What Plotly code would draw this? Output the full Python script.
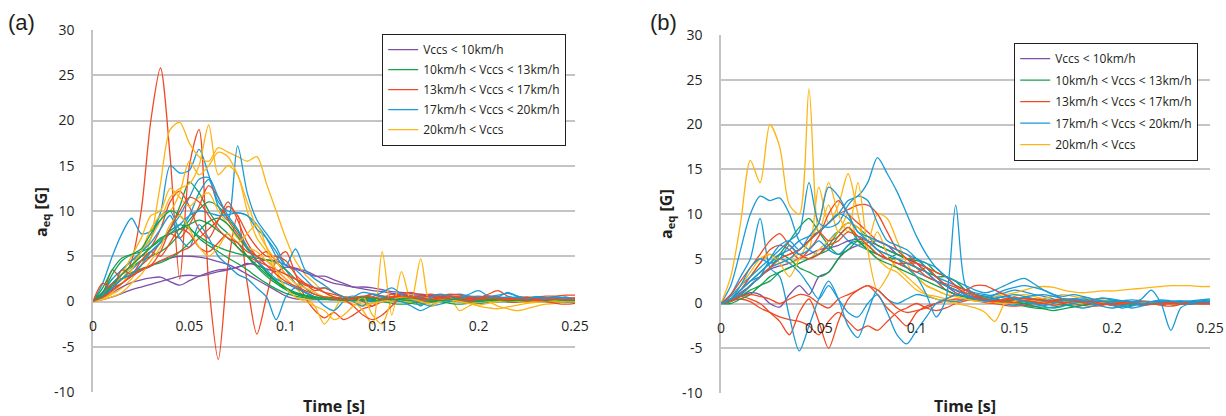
import plotly.graph_objects as go

# ---------------- shared time axis (s) ----------------
T = [0.000, 0.005, 0.010, 0.015, 0.020, 0.025, 0.030, 0.035, 0.040, 0.045,
     0.050, 0.055, 0.060, 0.065, 0.070, 0.075, 0.080, 0.085, 0.090, 0.095,
     0.100, 0.105, 0.110, 0.115, 0.120, 0.125, 0.130, 0.135, 0.140, 0.145,
     0.150, 0.155, 0.160, 0.165, 0.170, 0.175, 0.180, 0.185, 0.190, 0.195,
     0.200, 0.205, 0.210, 0.215, 0.220, 0.225, 0.230, 0.235, 0.240, 0.245,
     0.250]

X_TICKS = [0, 0.05, 0.1, 0.15, 0.2, 0.25]
X_TICK_TEXT = ["0", "0.05", "0.1", "0.15", "0.2", "0.25"]
Y_TICKS = [-10, -5, 0, 5, 10, 15, 20, 25, 30]
Y_TICK_TEXT = ["-10", "-5", "0", "5", "10", "15", "20", "25", "30"]

LABELS = ["Vccs &lt; 10km/h", "10km/h &lt; Vccs &lt; 13km/h", "13km/h &lt; Vccs &lt; 17km/h",
          "17km/h &lt; Vccs &lt; 20km/h", "20km/h &lt; Vccs"]
COLORS = ["#7F4FA6", "#13A24E", "#EF4A23", "#1A9AD6", "#FDB515"]

# ---------------- panel (a) ----------------
a_purple_1 = [0.0,0.2,0.5,0.9,1.3,1.6,1.9,2.2,2.5,2.8,
              2.9,2.8,3.0,3.3,3.5,3.8,4.1,4.4,4.6,4.5,
              4.0,3.7,3.4,2.9,2.4,2.0,1.8,1.6,1.6,1.5,
              1.3,1.1,1.0,0.9,0.8,0.7,0.6,0.6,0.5,0.5,
              0.4,0.4,0.3,0.3,0.3,0.2,0.2,0.2,0.2,0.2,
              0.2]
a_purple_2 = [0.0,0.5,1.3,2.0,2.8,3.4,3.9,4.5,4.8,5.0,
              5.0,4.9,4.7,4.4,4.1,3.6,3.0,2.4,1.8,1.2,
              0.6,0.3,0.2,0.2,0.3,0.3,0.3,0.2,0.2,0.2,
              0.2,0.1,0.1,0.1,0.1,0.1,0.1,0.1,0.0,0.0,
              0.0,0.0,0.0,0.1,0.1,0.1,0.0,0.0,0.0,0.0,
              0.0]
a_purple_3 = [0.0,0.4,1.0,1.6,2.1,2.4,2.6,2.7,2.2,1.8,
              2.3,2.8,3.2,3.5,3.6,3.8,4.2,4.0,3.6,3.3,
              3.8,3.6,3.2,2.8,2.8,2.4,2.0,1.6,1.4,1.2,
              1.1,0.9,0.8,0.7,0.7,0.6,0.5,0.5,0.4,0.4,
              0.3,0.3,0.3,0.2,0.2,0.2,0.2,0.1,0.1,0.1,
              0.1]

a_green_1 = [0.0,1.0,2.5,3.5,4.5,5.0,5.5,6.5,8.0,10.5,
             13.2,12.0,10.0,8.5,7.5,6.5,5.0,3.8,2.8,2.0,
             1.3,0.8,0.5,0.4,0.3,0.3,0.3,0.2,0.2,0.2,
             0.2,0.2,0.2,0.1,0.1,0.1,0.1,0.1,0.1,0.1,
             0.1,0.0,0.0,0.0,0.0,0.0,0.1,0.1,0.1,0.1,
             0.1]
a_green_2 = [0.0,0.8,2.0,3.0,3.8,4.5,5.0,5.5,6.3,7.5,
             9.0,10.2,11.0,10.5,9.2,7.8,6.0,4.5,3.2,2.2,
             1.4,0.9,0.6,0.4,0.3,0.2,0.2,0.3,0.4,0.3,
             0.2,0.1,0.0,-0.2,-0.3,-0.1,0.1,0.2,0.1,0.0,
             -0.2,-0.1,0.0,0.1,0.1,0.0,0.0,0.1,0.1,0.0,
             0.0]
a_green_3 = [0.0,1.5,3.5,4.8,5.2,5.5,6.0,6.8,7.8,8.5,
             8.0,7.2,6.5,6.0,5.6,5.3,5.0,4.8,4.6,4.3,
             3.5,2.5,1.5,0.8,0.5,0.4,0.3,0.3,0.2,0.2,
             0.2,0.3,0.2,0.1,0.2,0.3,0.2,0.1,0.0,-0.1,
             0.0,0.1,0.2,0.1,0.0,0.0,0.1,0.2,0.1,0.1,
             0.1]
a_green_4 = [0.0,0.5,1.5,2.5,3.2,3.6,4.0,4.3,4.8,5.5,
             6.5,7.8,8.8,9.2,8.5,7.2,5.8,4.5,3.3,2.3,
             1.5,0.9,0.6,0.4,0.4,0.3,0.2,0.2,0.1,0.1,
             0.0,-0.2,-0.3,-0.2,0.0,0.1,0.0,-0.2,-0.3,-0.2,
             -0.1,0.0,0.1,0.0,-0.1,0.0,0.1,0.1,0.0,0.0,
             0.0]
a_green_5 = [0.0,1.0,3.0,4.5,5.2,5.8,7.5,9.0,10.0,9.5,
             8.2,7.0,6.2,5.5,4.8,4.2,3.5,2.7,2.0,1.4,
             0.9,0.6,0.4,0.3,0.2,0.2,0.1,0.1,0.2,0.3,
             0.4,0.3,0.2,0.1,0.0,0.0,0.1,0.2,0.1,0.0,
             0.0,0.1,0.1,0.0,-0.1,0.0,0.1,0.1,0.1,0.0,
             0.0]
a_green_6 = [0.0,0.6,1.8,3.0,4.0,5.0,6.0,7.0,7.5,8.0,
             8.5,9.0,8.6,7.8,7.0,6.0,5.0,4.0,3.0,2.2,
             1.5,1.0,0.7,0.5,0.4,0.3,0.3,0.4,0.5,0.4,
             0.3,0.2,0.3,0.4,0.3,0.2,0.1,0.2,0.3,0.2,
             0.1,0.2,0.2,0.1,0.1,0.2,0.1,0.1,0.2,0.1,
             0.1]

a_red_1 = [0.0,0.8,3.5,2.5,4.5,10.0,20.0,25.8,16.0,2.5,
           15.0,19.0,2.0,-6.4,4.0,9.5,2.0,-3.6,0.5,4.5,
           5.5,3.0,0.5,-1.0,-1.8,-1.2,-2.0,-1.5,-0.8,-0.5,
           0.3,0.8,0.5,0.2,0.6,0.8,0.6,0.4,0.3,0.5,
           0.4,0.8,1.2,0.6,0.3,0.2,0.4,0.3,0.2,0.3,
           0.4]
a_red_2 = [0.0,0.5,1.5,3.0,4.0,5.0,6.0,8.0,11.0,12.2,
           10.5,8.0,7.0,9.0,11.0,9.0,6.5,5.0,4.5,3.5,
           2.5,1.5,1.0,0.5,0.3,0.4,0.5,0.3,0.2,0.4,
           0.6,0.5,0.3,0.2,0.4,0.6,0.5,0.3,0.2,0.3,
           0.5,0.6,0.4,0.3,0.2,0.3,0.4,0.3,0.2,0.3,
           0.4]
a_red_3 = [0.0,1.0,2.0,2.5,3.0,4.0,5.0,6.5,7.5,7.0,
           8.5,10.5,12.8,11.5,9.0,7.5,6.0,5.0,5.5,4.5,
           3.0,2.5,1.8,1.5,1.0,0.8,0.5,0.3,0.0,-0.5,
           0.0,0.5,0.8,0.6,0.4,0.2,0.4,0.6,0.5,0.3,
           0.2,0.3,0.5,0.4,0.3,0.4,0.5,0.6,0.6,0.7,
           0.7]
a_red_4 = [0.0,0.5,1.5,2.0,3.0,3.5,4.0,4.5,5.0,5.5,
           6.0,7.0,8.0,9.0,10.5,9.5,7.5,6.0,5.0,5.0,
           4.5,3.0,2.0,1.2,1.5,1.0,0.5,0.2,0.5,0.8,
           0.6,0.4,0.8,1.0,0.7,0.5,0.6,0.8,0.7,0.5,
           0.4,0.6,0.5,0.3,0.4,0.5,0.3,0.2,0.3,0.4,
           0.3]
a_red_5 = [0.0,2.0,1.5,3.5,3.0,4.5,5.5,5.0,6.5,8.0,
           7.5,6.0,5.5,6.5,7.5,6.0,5.0,4.5,4.0,3.5,
           3.0,2.5,2.0,1.5,1.0,0.5,0.2,-0.5,-1.5,-2.0,
           -1.5,-0.5,0.5,0.3,0.0,0.2,0.4,0.3,0.1,0.0,
           0.1,0.3,0.2,0.0,-0.1,0.1,0.2,0.0,-0.2,-0.3,
           -0.2]
a_red_6 = [0.0,0.5,1.2,2.0,2.8,3.5,4.0,5.5,8.0,10.0,
           11.5,11.0,9.5,8.0,7.0,6.5,5.5,5.0,4.0,3.0,
           2.2,1.7,1.2,0.8,0.5,0.3,0.2,0.4,0.6,0.5,
           0.3,0.4,0.6,0.5,0.3,0.2,0.3,0.5,0.4,0.2,
           0.3,0.4,0.3,0.2,0.3,0.2,0.1,0.2,0.3,0.2,
           0.2]

a_blue_1 = [0.0,2.0,5.0,7.5,9.2,7.5,7.8,9.8,15.0,14.2,
            14.5,16.8,14.0,11.0,10.0,9.8,9.5,8.5,7.0,5.0,
            3.5,2.0,1.0,0.5,0.3,0.2,0.4,0.6,0.4,0.2,
            0.3,0.5,0.7,0.6,0.4,0.3,0.5,0.7,0.8,0.6,
            0.4,0.5,0.7,0.9,0.6,0.4,0.3,0.4,0.5,0.4,
            0.3]
a_blue_2 = [0.0,0.8,2.0,3.0,4.0,5.5,7.0,9.5,10.0,8.0,
            9.5,12.0,13.5,10.5,9.0,17.2,12.0,9.0,7.5,6.0,
            4.0,3.5,2.5,1.5,1.5,1.0,0.5,0.3,0.5,0.8,
            0.6,0.3,0.2,0.4,0.6,0.5,0.3,0.2,0.4,0.6,
            0.5,0.3,0.2,0.3,0.5,0.4,0.3,0.4,0.5,0.4,
            0.3]
a_blue_3 = [0.0,1.0,2.5,3.5,4.5,5.5,6.5,8.0,9.5,7.0,
            6.0,8.5,7.0,5.0,4.0,3.0,2.5,1.5,0.5,-2.0,
            0.5,1.5,1.0,0.5,0.3,0.2,0.4,0.3,0.1,0.0,
            0.2,0.4,0.3,0.1,-0.2,-0.5,-0.3,0.0,0.3,0.5,
            0.6,0.4,0.2,0.0,0.2,0.4,0.5,0.3,0.2,0.4,
            0.3]
a_blue_4 = [0.0,0.5,1.5,2.5,3.5,4.5,5.5,6.5,8.0,9.5,
            11.5,13.5,13.7,11.5,9.5,8.0,6.0,4.5,3.5,2.5,
            2.0,1.5,1.0,0.5,-0.5,-1.0,0.0,0.5,1.0,0.8,
            0.5,0.3,0.0,-0.5,-1.0,-0.5,0.2,0.5,0.3,0.0,
            -0.2,0.0,0.3,0.5,0.4,0.2,0.1,0.3,0.5,0.3,
            0.2]
a_blue_5 = [0.0,0.5,1.5,2.5,3.0,4.0,5.5,6.5,7.5,8.5,
            9.5,10.0,9.8,9.5,9.6,9.8,9.5,8.0,7.0,5.5,
            4.0,5.8,3.5,2.5,1.8,1.0,0.5,0.0,-0.5,0.5,
            1.0,1.5,0.8,0.3,-0.5,0.5,0.8,0.6,0.4,0.8,
            1.2,0.6,0.5,1.0,0.6,0.3,0.5,0.4,0.3,0.5,
            0.2]

a_yellow_1 = [0.0,0.3,0.8,1.5,2.5,4.0,7.0,13.0,19.0,19.8,
              17.5,16.0,15.5,17.0,16.5,16.0,15.5,16.0,13.0,10.0,
              7.0,4.5,3.0,2.0,1.0,0.5,0.3,0.5,0.4,0.2,
              0.0,0.3,0.5,0.3,0.1,0.2,0.4,0.3,0.1,0.0,
              0.1,0.2,0.1,0.0,-0.1,0.0,0.1,0.1,0.0,0.0,
              0.1]
a_yellow_2 = [0.0,0.5,1.5,2.5,4.0,5.5,7.0,9.0,11.5,12.5,
              13.0,15.0,19.5,14.0,15.0,14.0,10.0,7.0,5.5,3.0,
              1.5,0.5,0.2,0.3,0.5,0.4,0.2,0.0,-0.3,-0.2,
              0.0,0.2,0.1,-0.1,-0.2,0.0,0.2,0.1,0.0,-0.2,
              -0.5,-0.7,-0.8,-0.6,-0.4,-0.2,-0.1,0.0,0.0,0.1,
              0.1]
a_yellow_3 = [0.0,0.5,1.5,3.0,5.0,7.0,9.5,10.0,12.5,11.5,
              10.5,11.5,12.0,10.0,8.5,7.0,6.0,5.5,4.5,3.5,
              2.5,1.5,0.5,-0.5,-2.5,-1.0,0.5,0.0,-1.0,-2.5,
              5.5,-1.5,3.3,0.0,4.7,-0.5,0.0,0.5,-1.0,-0.5,
              0.0,0.0,-0.5,-0.8,-1.0,-0.8,-0.5,-0.3,-0.2,0.0,
              0.0]
a_yellow_4 = [0.0,0.3,1.0,2.0,3.5,5.5,8.0,9.5,10.0,12.0,
              15.5,14.0,15.0,16.5,16.0,14.0,11.0,8.0,6.0,4.5,
              3.0,2.0,1.5,1.0,0.5,0.2,0.0,-0.3,-0.5,-0.2,
              0.0,0.2,0.3,0.1,0.0,0.2,0.3,0.2,0.0,-0.2,
              -0.1,0.0,0.1,0.0,-0.1,0.0,0.1,0.0,0.0,0.1,
              0.1]
a_yellow_5 = [0.0,0.2,0.5,1.0,2.0,3.0,4.5,6.0,8.5,9.5,
              8.0,6.0,5.0,6.0,7.5,6.5,7.5,8.5,6.0,3.5,
              1.5,0.5,0.0,-0.5,-1.0,-2.0,-1.5,-0.5,0.5,-1.5,
              -2.5,0.0,0.5,0.3,0.0,-0.3,0.0,0.2,0.0,-0.2,
              -0.4,-0.2,0.0,0.1,0.0,-0.1,0.0,0.1,0.1,0.0,
              0.0]

# ---------------- panel (b) ----------------
b_purple_1 = [0.0,0.3,0.8,1.2,1.0,0.0,-0.4,1.0,2.0,1.0,
              3.0,3.5,5.0,6.0,6.5,6.8,7.0,6.5,5.5,5.0,
              4.5,3.5,2.5,1.5,1.0,0.8,0.5,0.3,0.2,0.1,
              0.0,-0.2,-0.3,-0.2,0.0,0.1,0.2,0.1,0.0,-0.1,
              0.0,0.1,0.1,0.0,0.0,0.1,0.1,0.0,0.0,0.1,
              0.1]
b_purple_2 = [0.0,0.5,1.2,2.0,3.0,3.8,4.2,4.5,5.0,5.5,
              6.0,6.2,6.5,7.0,7.2,7.0,6.5,6.0,5.5,5.0,
              4.5,4.0,3.0,2.0,1.2,0.8,0.6,0.5,0.4,0.3,
              0.2,0.3,0.2,0.1,0.2,0.3,0.2,0.1,0.1,0.2,
              0.1,0.1,0.2,0.1,0.0,0.1,0.1,0.1,0.0,0.1,
              0.1]

b_green_1 = [0.0,0.3,1.0,2.0,3.0,4.0,5.5,7.0,8.5,9.5,
             8.0,6.5,5.5,6.0,7.0,6.5,5.5,5.0,5.0,4.5,
             4.0,3.5,3.0,2.0,1.5,1.0,0.7,0.5,0.3,0.2,
             0.0,-0.3,-0.5,-0.6,-0.8,-0.6,-0.4,-0.2,0.0,0.1,
             0.0,-0.1,0.0,0.1,0.1,0.0,0.0,0.1,0.1,0.2,
             0.2]
b_green_2 = [0.0,0.2,0.8,1.5,2.0,3.0,3.5,4.0,4.5,5.0,
             5.5,6.5,8.0,9.0,8.5,7.5,6.5,6.0,5.5,5.0,
             4.8,4.5,3.5,3.0,2.5,1.5,1.0,0.7,0.5,0.3,
             0.2,0.0,-0.3,-0.5,-0.4,-0.2,0.0,0.2,0.1,0.0,
             -0.2,-0.3,-0.2,0.0,0.1,0.2,0.1,0.0,0.1,0.1,
             0.1]
b_green_3 = [0.0,0.5,1.5,2.5,3.5,4.5,5.5,5.0,4.0,3.5,
             3.0,3.5,5.0,6.5,7.0,6.0,5.5,5.0,5.5,5.0,
             5.0,4.0,3.0,3.0,2.5,1.5,1.0,0.8,0.5,0.3,
             0.5,0.6,0.4,0.2,0.3,0.5,0.4,0.2,0.1,0.2,
             0.3,0.2,0.1,0.0,0.1,0.2,0.1,0.0,0.0,0.1,
             0.1]
b_green_4 = [0.0,0.0,0.5,1.0,2.0,2.5,3.5,4.0,4.5,5.0,
             5.5,6.0,7.5,8.5,7.0,6.0,5.0,4.5,4.0,3.5,
             3.0,2.5,2.0,1.5,1.0,0.7,0.5,0.4,0.3,0.2,
             0.1,0.0,0.1,0.2,0.1,-0.1,-0.3,-0.2,0.0,0.1,
             0.1,0.0,-0.1,0.0,0.1,0.1,0.0,0.0,0.1,0.1,
             0.1]

b_red_1 = [0.0,0.5,0.8,0.5,0.0,-1.0,-2.0,-3.5,-1.0,0.5,
           -2.0,-5.0,-2.0,0.5,1.5,2.0,1.0,-0.5,-1.5,-2.5,
           -1.0,-0.3,0.0,0.3,0.5,0.4,0.3,0.1,0.0,-0.2,
           -0.3,-0.2,0.0,0.2,0.3,0.2,0.0,-0.2,-0.3,-0.2,
           0.0,0.1,0.2,0.1,0.0,-0.1,0.0,0.1,0.1,0.0,
           0.0]
b_red_2 = [0.0,0.3,0.5,0.2,-0.5,-1.0,-1.5,-1.8,-2.0,-2.5,
           -3.5,-2.0,-1.0,-2.0,-3.0,-2.5,-3.0,-2.0,-1.0,-0.5,
           0.0,-0.5,-0.8,-0.5,0.0,0.3,0.5,0.4,0.3,0.2,
           0.4,0.6,0.5,0.3,0.2,0.3,0.4,0.3,0.1,0.0,
           0.1,0.2,0.1,0.0,0.0,0.1,0.1,0.0,0.0,0.1,
           0.1]
b_red_3 = [0.0,0.5,1.5,3.0,4.5,6.0,6.5,6.0,5.0,6.0,
           7.5,10.0,11.5,10.0,9.0,8.0,7.0,6.5,6.0,5.5,
           4.5,3.5,2.5,1.5,1.0,0.8,0.6,0.4,0.3,0.2,
           0.4,0.6,0.5,0.3,0.2,0.4,0.5,0.3,0.1,0.0,
           -0.2,-0.1,0.1,0.2,0.0,-0.2,-0.3,-0.1,0.1,0.0,
           0.0]
b_red_4 = [0.0,0.5,1.0,2.0,3.0,4.0,5.0,5.5,6.0,7.0,
           8.0,9.0,10.0,10.5,11.0,11.0,10.0,8.0,6.0,5.0,
           4.0,3.0,2.5,2.2,1.8,1.2,0.8,0.5,0.3,0.5,
           0.7,0.5,0.3,0.2,0.4,0.5,0.3,0.1,0.0,0.1,
           0.2,0.1,0.0,0.1,0.2,0.1,0.0,0.0,0.1,0.1,
           0.1]
b_red_5 = [0.0,1.0,2.5,4.0,5.5,7.0,7.8,6.5,5.5,5.0,
           5.5,6.5,7.0,8.0,7.5,7.0,6.0,5.0,4.5,4.0,
           3.5,4.0,3.0,2.0,1.5,1.0,0.6,0.3,0.2,0.4,
           0.5,0.3,0.1,0.0,0.2,0.4,0.3,0.1,0.0,-0.1,
           0.0,0.1,0.0,-0.1,0.0,0.1,0.0,0.0,0.1,0.0,
           0.0]
b_red_6 = [0.0,0.5,0.8,1.0,0.8,0.5,0.0,0.5,1.0,0.8,
           0.0,-0.5,0.5,1.0,1.5,2.0,1.5,0.5,-0.5,-1.0,
           -0.8,-0.5,0.0,0.5,1.0,1.5,2.0,2.0,1.5,1.0,
           0.5,0.3,0.2,0.0,-0.2,0.0,0.2,0.1,0.0,-0.1,
           0.0,0.1,0.1,0.0,0.0,0.1,0.1,0.0,0.0,0.0,
           0.0]
b_red_7 = [0.0,0.3,1.0,2.0,3.0,4.0,5.0,5.5,6.0,7.0,
           8.0,7.0,7.5,8.5,7.5,6.5,5.5,5.0,4.5,4.5,
           4.5,4.0,3.5,3.0,2.0,1.5,1.0,0.5,0.3,0.2,
           0.1,0.3,0.5,0.4,0.2,0.1,0.2,0.3,0.2,0.0,
           -0.1,0.0,0.1,0.0,-0.1,0.0,0.1,0.1,0.0,0.0,
           0.0]

b_blue_1 = [0.0,2.0,6.0,10.0,12.0,11.5,11.8,10.0,7.0,6.0,
            5.5,7.0,8.0,7.0,6.5,6.0,5.5,5.0,4.5,4.0,
            3.5,3.0,2.5,2.0,1.5,1.2,1.0,0.8,1.0,1.2,
            1.5,1.3,1.0,0.8,0.5,0.3,0.5,0.7,0.5,0.3,
            0.2,0.3,0.4,0.3,0.2,0.1,0.2,0.3,0.2,0.1,
            0.1]
b_blue_2 = [0.0,1.0,3.0,5.0,9.5,4.0,3.0,-1.5,-5.3,-2.5,
            0.5,2.5,0.5,-2.5,-3.8,-1.0,1.5,0.5,0.0,0.5,
            1.0,0.8,0.5,0.3,0.2,0.5,0.8,0.5,0.2,0.0,
            -0.2,0.0,0.3,0.5,0.3,0.0,-0.3,-0.5,-0.3,0.0,
            0.2,0.1,0.0,-0.2,-0.1,0.0,0.1,0.0,-0.1,0.0,
            0.0]
b_blue_3 = [0.0,0.5,1.5,2.5,3.5,4.5,5.5,6.0,7.0,7.5,
            8.0,9.0,10.0,11.5,12.0,13.5,16.3,14.5,12.5,10.0,
            7.5,5.5,4.0,3.0,2.0,1.5,1.2,1.0,0.8,0.6,
            0.5,0.7,0.9,1.0,0.8,0.5,0.3,0.2,0.4,0.6,
            0.5,0.3,0.2,0.1,0.2,0.3,0.2,0.1,0.2,0.3,
            0.3]
b_blue_4 = [0.0,0.8,2.0,3.0,4.0,5.0,6.0,7.0,8.0,13.5,
            9.0,8.5,9.0,11.0,12.0,11.5,9.0,7.0,6.5,6.0,
            5.0,4.0,3.0,2.5,2.0,1.5,1.0,0.8,0.6,0.8,
            1.0,0.8,0.5,0.3,0.2,0.1,0.3,0.5,0.3,0.1,
            -0.2,-0.5,-0.3,0.0,0.2,0.3,0.2,0.1,0.2,0.3,
            0.2]
b_blue_5 = [0.0,0.5,1.0,2.0,3.0,4.0,4.5,5.0,6.0,7.0,
            8.0,9.0,10.0,9.5,8.0,7.0,6.0,5.5,5.0,4.0,
            3.0,1.0,-1.5,0.5,11.0,2.0,1.0,0.5,1.0,1.5,
            1.8,2.0,1.8,1.5,1.0,0.5,0.3,0.2,0.4,0.6,
            0.4,0.2,0.0,-0.2,-0.1,0.0,0.2,0.3,0.2,0.1,
            0.1]
b_blue_6 = [0.0,0.5,1.5,2.5,3.0,4.0,5.0,4.5,3.5,2.0,
            0.5,2.0,0.5,-1.0,-1.5,0.0,1.0,-1.0,-3.5,-4.5,
            -3.0,-1.5,0.0,0.5,1.0,0.8,0.5,0.3,0.5,0.8,
            0.6,0.3,0.0,-0.3,-0.5,-0.3,0.0,0.2,0.3,0.2,
            0.0,-0.2,-0.5,-0.3,0.0,0.2,0.1,0.0,0.1,0.2,
            0.1]
b_blue_7 = [0.0,0.5,1.0,2.0,3.0,5.0,6.5,7.0,6.0,7.5,
            9.0,13.0,12.0,10.0,8.0,7.5,7.0,6.5,6.0,5.5,
            5.0,4.5,4.0,3.0,2.5,2.0,1.5,1.2,1.5,2.0,
            2.5,2.8,2.2,1.5,1.0,0.8,1.0,0.8,0.5,0.3,
            0.2,0.3,0.2,0.0,0.2,0.4,0.3,0.2,0.3,0.4,
            0.5]
b_blue_8 = [0.0,0.5,2.0,4.0,5.0,4.5,5.0,6.5,5.5,6.0,
            7.0,6.0,5.5,6.5,7.5,7.0,6.0,5.5,5.0,4.5,
            4.0,3.5,2.5,2.0,1.5,1.0,0.5,0.3,0.5,0.8,
            0.5,0.2,0.0,-0.2,0.0,0.3,0.5,0.3,0.0,-0.3,
            -0.5,-0.3,0.0,0.5,1.5,0.0,-3.0,-0.5,0.0,0.2,
            0.3]

b_yellow_1 = [0.0,3.0,9.0,16.0,13.5,20.0,17.5,11.0,10.0,24.0,
              8.0,11.0,8.0,10.0,7.0,6.0,5.0,4.0,3.5,2.5,
              1.5,1.0,0.8,0.5,0.3,0.5,0.8,0.6,0.4,0.2,
              0.0,0.2,0.4,0.6,0.8,1.0,0.8,0.6,0.5,0.4,
              0.3,0.2,0.1,0.0,0.1,0.2,0.1,0.0,0.1,0.2,
              0.2]
b_yellow_2 = [0.0,0.5,1.5,3.0,4.5,5.5,5.0,4.5,5.0,6.0,
              13.0,9.0,11.0,14.5,10.0,6.0,8.0,5.5,4.0,3.0,
              2.0,1.0,0.5,0.2,0.0,-0.2,-0.5,-1.0,-2.0,0.0,
              0.8,1.0,0.8,0.5,0.3,0.2,0.1,0.0,0.1,0.2,
              0.1,0.0,-0.1,0.0,0.1,0.1,0.0,0.0,0.1,0.1,
              0.1]
b_yellow_3 = [0.0,0.5,1.0,2.0,3.0,4.0,4.5,5.0,5.5,5.0,
              6.0,7.0,8.0,9.0,8.5,7.0,10.0,9.5,7.0,4.5,
              3.0,2.0,1.5,1.0,0.8,0.5,0.3,0.5,0.8,1.0,
              1.2,1.5,1.8,1.9,1.8,1.5,1.3,1.2,1.3,1.4,
              1.4,1.5,1.6,1.7,1.8,1.9,2.0,2.0,2.0,1.9,
              1.9]
b_yellow_4 = [0.0,0.5,2.0,3.5,5.0,5.5,4.5,3.0,5.0,7.0,
              9.0,13.5,10.0,8.0,13.5,6.0,1.5,3.0,5.0,4.0,
              3.0,2.0,1.5,1.0,0.8,0.5,0.3,0.2,0.1,0.0,
              0.2,0.4,0.3,0.1,0.0,0.1,0.2,0.1,0.0,0.1,
              0.2,0.1,0.0,0.1,0.1,0.0,0.1,0.1,0.1,0.1,
              0.1]

PANEL_A = [
    [a_purple_1, a_purple_2, a_purple_3],
    [a_green_1, a_green_2, a_green_3, a_green_4, a_green_5, a_green_6],
    [a_red_1, a_red_2, a_red_3, a_red_4, a_red_5, a_red_6],
    [a_blue_1, a_blue_2, a_blue_3, a_blue_4, a_blue_5],
    [a_yellow_1, a_yellow_2, a_yellow_3, a_yellow_4, a_yellow_5],
]
PANEL_B = [
    [b_purple_1, b_purple_2],
    [b_green_1, b_green_2, b_green_3, b_green_4],
    [b_red_1, b_red_2, b_red_3, b_red_4, b_red_5, b_red_6, b_red_7],
    [b_blue_1, b_blue_2, b_blue_3, b_blue_4, b_blue_5, b_blue_6, b_blue_7, b_blue_8],
    [b_yellow_1, b_yellow_2, b_yellow_3, b_yellow_4],
]

W, H = 1226, 416
FONT = "Open Sans"
TXT = "#231f20"

def px_x(v):
    return v / W

def px_y(v):
    return 1 - v / H

fig = go.Figure()

def add_panel(groups, xa, ya, legend, prefix):
    nmax = max(len(g) for g in groups)
    shown = set()
    for i in range(nmax):
        for ci, g in enumerate(groups):
            if i < len(g):
                assert len(g[i]) == len(T), (prefix, ci, i, len(g[i]))
                fig.add_trace(go.Scatter(
                    x=T, y=g[i], mode="lines",
                    line=dict(color=COLORS[ci], width=1.3, shape="spline", smoothing=0.8),
                    name=LABELS[ci], legendgroup=prefix + str(ci),
                    showlegend=(ci not in shown), legend=legend,
                    xaxis=xa, yaxis=ya, hoverinfo="skip",
                ))
                shown.add(ci)

add_panel(PANEL_A, "x", "y", "legend", "a")
add_panel(PANEL_B, "x2", "y2", "legend2", "b")

# plot areas in px
A_X0, A_X1, A_Y0, A_Y1 = 93, 575, 30, 392
B_X0, B_X1, B_Y0, B_Y1 = 721, 1210, 35, 393

def zero_pos(y0, y1):
    return px_y(y1) + (px_y(y0) - px_y(y1)) * 0.25

tickfont = dict(family=FONT, size=14, color=TXT)
common_x = dict(range=[0, 0.25], tickmode="array", tickvals=X_TICKS, ticktext=X_TICK_TEXT,
                showgrid=False, zeroline=False, showline=False, ticks="",
                tickfont=tickfont, anchor="free", ticklabelstandoff=14, fixedrange=True,
                automargin=False)
common_y = dict(range=[-10, 30], tickmode="array", tickvals=Y_TICKS, ticktext=Y_TICK_TEXT,
                showgrid=True, gridcolor="#c4c4c4", gridwidth=1.5,
                zeroline=False, showline=True, linecolor="#c4c4c4", linewidth=1.5,
                ticks="", tickfont=tickfont, ticklabelstandoff=14, fixedrange=True,
                automargin=False)

fig.update_layout(
    width=W, height=H, margin=dict(l=0, r=0, t=0, b=0, autoexpand=False),
    paper_bgcolor="white", plot_bgcolor="white",
    font=dict(family=FONT, color=TXT),
    xaxis=dict(domain=[px_x(A_X0), px_x(A_X1)], position=zero_pos(A_Y0, A_Y1), **common_x),
    yaxis=dict(domain=[px_y(A_Y1), px_y(A_Y0)], anchor="x", **common_y),
    xaxis2=dict(domain=[px_x(B_X0), px_x(B_X1)], position=zero_pos(B_Y0, B_Y1), **common_x),
    yaxis2=dict(domain=[px_y(B_Y1), px_y(B_Y0)], anchor="x2", **common_y),
    legend=dict(x=px_x(382), y=px_y(34), xanchor="left", yanchor="top",
                bgcolor="white", bordercolor="#231f20", borderwidth=1.2,
                font=dict(family=FONT, size=12, color=TXT),
                traceorder="grouped", tracegroupgap=1, itemwidth=30),
    legend2=dict(x=px_x(1014), y=px_y(43), xanchor="left", yanchor="top",
                 bgcolor="white", bordercolor="#231f20", borderwidth=1.2,
                 font=dict(family=FONT, size=12, color=TXT),
                 traceorder="grouped", tracegroupgap=2.5, itemwidth=30),
    showlegend=True,
)

annots = [
    dict(text="(a)", x=px_x(21), y=px_y(22), size=22, angle=0),
    dict(text="(b)", x=px_x(663), y=px_y(22), size=22, angle=0),
    dict(text="<b>a<sub>eq</sub> [G]</b>", x=px_x(41), y=px_y(212), size=16, angle=-90),
    dict(text="<b>a<sub>eq</sub> [G]</b>", x=px_x(667), y=px_y(214), size=16, angle=-90),
    dict(text="<b>Time [s]</b>", x=px_x(334), y=px_y(406), size=16, angle=0),
    dict(text="<b>Time [s]</b>", x=px_x(965), y=px_y(406), size=16, angle=0),
]
for a in annots:
    fam = "Liberation Sans" if a["text"].startswith("(") else FONT
    fig.add_annotation(text=a["text"], x=a["x"], y=a["y"], xref="paper", yref="paper",
                       xanchor="center", yanchor="middle", showarrow=False,
                       textangle=a["angle"], font=dict(family=fam, size=a["size"], color=TXT))

fig.write_html("out.html", config={"displayModeBar": False},
               post_script="document.body.style.margin='0';document.body.style.overflow='hidden';")
